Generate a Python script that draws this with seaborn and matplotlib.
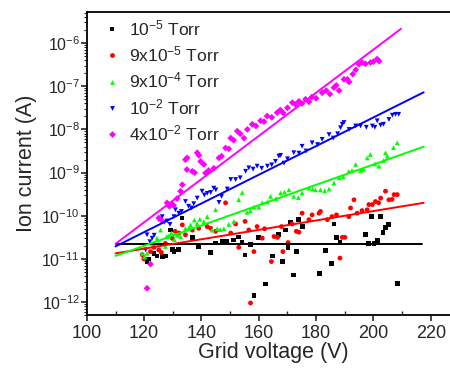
import matplotlib
matplotlib.use("Agg")
import matplotlib.pyplot as plt
import numpy as np
import pandas as pd
import seaborn as sns
from matplotlib.ticker import FixedLocator, MultipleLocator, LogLocator, NullFormatter

# ---- data (voltage in V, current as log10(A)) ----
series_names = ["10$^{-5}$ Torr", "9x10$^{-5}$ Torr", "9x10$^{-4}$ Torr",
                "10$^{-2}$ Torr", "4x10$^{-2}$ Torr"]
series_colors = ["#000000", "#ff0000", "#00ff00", "#0000ff", "#ff00ff"]
series_markers = ["s", "o", "^", "v", "D"]

x_ticks = [100, 120, 140, 160, 180, 200, 220]
y_ticks = [1e-12, 1e-11, 1e-10, 1e-9, 1e-8, 1e-7, 1e-6]

black_v = [121.0, 121.6, 123.4, 124.5, 126.3, 127.5, 129.2, 129.8, 130.4, 132.1,
           133.2, 136.8, 139.0, 143.2, 144.9, 147.2, 148.9, 151.3, 153.0, 154.1,
           155.2, 157.1, 158.3, 159.8, 162.3, 164.9, 167.0, 168.2, 169.3, 170.2,
           171.0, 172.2, 173.1, 173.9, 175.1, 181.3, 183.3, 185.3, 186.2, 187.1,
           188.3, 197.3, 198.2, 199.3, 200.2, 201.3, 202.5, 203.3, 204.3, 205.2,
           208.3]
black_lg = [-11.05, -11.0, -10.88, -10.93, -10.95, -10.93, -10.33, -10.79, -10.83, -10.79,
            -10.05, -10.5, -10.71, -10.85, -10.63, -10.6, -10.6, -10.56, -10.49, -10.62,
            -10.91, -10.67, -11.84, -10.5, -11.58, -10.93, -10.44, -11.05, -10.33, -10.73,
            -10.16, -11.37, -10.83, -10.08, -10.25, -11.33, -10.81, -11.1, -10.19, -10.5,
            -10.62, -10.44, -10.64, -10.02, -10.64, -10.57, -10.02, -10.39, -10.27, -10.21,
            -11.57]

red_v = [119.3, 119.9, 122.2, 123.4, 125.1, 126.0, 127.4, 129.8, 130.8, 132.1,
         133.3, 134.4, 136.8, 139.0, 142.0, 143.2, 144.9, 148.4, 150.2, 151.9,
         153.0, 155.2, 156.5, 157.1, 158.3, 159.4, 161.2, 162.0, 164.4, 165.3,
         166.5, 167.9, 168.4, 170.2, 171.6, 173.1, 174.0, 175.1, 177.5, 178.6,
         181.0, 181.5, 183.9, 185.5, 187.1, 188.3, 189.1, 190.0, 191.4, 192.0,
         193.2, 194.3, 196.0, 197.8, 198.4, 199.6, 200.7, 201.8, 202.5, 204.2,
         205.4, 206.5, 207.2, 208.3]
red_lg = [-10.9, -11.0, -10.83, -10.73, -10.79, -10.85, -10.64, -10.52, -10.36, -10.4,
          -10.21, -10.44, -10.33, -10.29, -10.25, -10.29, -10.36, -9.70, -10.4, -10.19,
          -10.73, -10.13, -10.33, -12.02, -10.83, -10.25, -10.52, -10.3, -11.06, -10.48,
          -10.5, -10.25, -10.83, -10.62, -10.19, -10.36, -10.38, -9.94, -10.09, -9.98,
          -9.94, -9.9, -10.09, -10.02, -9.98, -10.98, -10.5, -10.5, -10.02, -9.82,
          -9.63, -9.94, -9.88, -9.86, -9.74, -9.74, -9.67, -9.7, -9.59, -9.43,
          -9.63, -9.62, -9.51, -9.51]

green_v = [119.3, 120.2, 121.0, 122.8, 124.5, 125.1, 125.7, 127.4, 127.9, 128.6,
           129.5, 130.5, 131.5, 132.7, 134.4, 135.6, 136.2, 137.5, 138.5, 139.4,
           140.8, 142.0, 143.7, 144.9, 145.5, 146.5, 147.8, 149.5, 151.3, 153.0,
           154.2, 155.9, 157.0, 158.3, 160.0, 161.2, 163.0, 164.1, 166.0, 167.6,
           169.0, 170.5, 172.2, 173.8, 175.1, 177.5, 178.8, 179.8, 181.5, 183.0,
           184.5, 186.2, 188.0, 189.5, 191.4, 192.5, 193.8, 195.5, 196.5, 197.8,
           198.9, 200.5, 201.9, 203.5, 204.2, 204.8, 207.0, 208.3]
green_lg = [-10.87, -10.95, -10.87, -10.64, -10.52, -10.64, -10.33, -10.71, -10.48, -10.47,
            -10.4, -10.55, -10.45, -10.48, -10.29, -10.29, -10.21, -10.1, -10.18, -10.08,
            -10.13, -10.02, -10.33, -9.86, -10.3, -10.32, -10.3, -10.2, -10.13, -9.63,
            -9.46, -9.92, -9.88, -9.8, -9.8, -9.70, -9.68, -9.55, -9.6, -9.47,
            -9.45, -9.4, -9.55, -9.58, -9.47, -9.36, -9.38, -9.4, -9.4, -9.42,
            -9.38, -9.24, -9.12, -9.1, -8.97, -8.95, -8.81, -8.95, -8.92, -8.66,
            -8.58, -8.8, -8.85, -8.72, -8.54, -8.62, -8.42, -8.31]

blue_v = [120.5, 121.0, 122.0, 122.8, 123.5, 125.1, 126.3, 127.0, 128.0, 129.0,
          130.4, 130.9, 132.1, 133.0, 134.4, 135.5, 136.5, 137.3, 138.5, 140.2,
          141.0, 142.0, 143.2, 144.3, 145.0, 146.1, 147.0, 149.0, 150.2, 151.9,
          153.5, 155.4, 156.5, 158.0, 159.4, 161.0, 163.0, 164.5, 165.8, 167.0,
          167.6, 168.8, 170.0, 172.2, 174.0, 175.1, 176.5, 178.6, 180.5, 182.1,
          184.5, 186.0, 187.5, 188.5, 189.1, 189.7, 191.5, 193.8, 195.5, 197.5,
          199.6, 200.5, 201.3, 202.5, 203.5, 205.4, 206.6, 207.7, 208.8]
blue_lg = [-10.79, -10.44, -10.6, -10.52, -10.45, -10.09, -10.02, -10.15, -10.12, -10.2,
           -10.02, -9.86, -9.94, -9.9, -9.67, -9.78, -9.82, -9.72, -9.59, -9.43,
           -9.52, -9.48, -9.46, -9.36, -9.4, -9.69, -9.55, -9.38, -9.16, -9.16,
           -9.12, -8.97, -8.89, -8.92, -8.85, -8.9, -8.85, -8.82, -8.74, -8.62,
           -8.6, -8.78, -8.68, -8.54, -8.55, -8.39, -8.5, -8.31, -8.35, -8.23,
           -8.12, -8.2, -8.1, -7.96, -7.88, -7.84, -8.0, -7.92, -7.92, -7.95,
           -7.92, -7.95, -7.8, -7.9, -7.88, -7.77, -7.67, -7.65, -7.65]

magenta_v = [121.0, 122.2, 125.1, 126.0, 128.0, 128.8, 129.8, 130.3, 131.5, 132.7,
             133.3, 134.4, 134.9, 135.0, 136.8, 137.6, 138.5, 139.1, 139.7, 140.8,
             141.4, 142.5, 144.3, 146.1, 147.0, 148.4, 149.5, 150.2, 151.2, 152.5,
             153.5, 154.8, 156.0, 157.7, 159.0, 160.6, 161.8, 162.9, 164.5, 166.4,
             167.5, 168.5, 170.0, 171.7, 172.8, 174.0, 175.0, 176.3, 177.5, 178.5,
             180.0, 182.1, 183.5, 184.8, 186.2, 187.0, 188.0, 189.7, 190.9, 191.5,
             192.8, 193.8, 194.9, 196.0, 197.2, 199.0, 200.0, 201.3, 202.0]
magenta_lg = [-11.68, -11.12, -10.05, -10.1, -9.7, -9.78, -9.74, -9.76, -9.6, -9.43,
              -9.28, -8.70, -8.93, -8.66, -8.97, -9.0, -8.54, -8.6, -8.74, -8.81,
              -9.01, -8.95, -8.9, -8.66, -8.62, -8.43, -8.45, -8.2, -8.25, -8.04,
              -8.1, -8.2, -8.0, -7.88, -7.92, -7.8, -7.82, -7.69, -7.72, -7.61,
              -7.55, -7.62, -7.5, -7.38, -7.42, -7.35, -7.4, -7.3, -7.36, -7.25,
              -7.28, -7.15, -7.1, -7.18, -7.03, -6.98, -7.1, -6.84, -6.84, -6.9,
              -6.72, -6.62, -6.49, -6.45, -6.48, -6.45, -6.43, -6.37, -6.42]

# fitted lines: end points (V, log10 I)
fit_v0 = [110, 110, 110, 110, 110]
fit_v1 = [217, 217.5, 217.5, 217.5, 209.6]
fit_lg0 = [-10.65, -10.87, -10.93, -10.71, -10.65]
fit_lg1 = [-10.65, -9.70, -8.40, -7.14, -5.67]

all_v = [black_v, red_v, green_v, blue_v, magenta_v]
all_lg = [black_lg, red_lg, green_lg, blue_lg, magenta_lg]

# ---- build tables ----
rows = []
for name, vs, lgs in zip(series_names, all_v, all_lg):
    for v, lg in zip(vs, lgs):
        rows.append({"V": v, "I": 10.0 ** lg, "series": name})
df = pd.DataFrame(rows)

fit_rows = []
for name, a, b, c, d in zip(series_names, fit_v0, fit_v1, fit_lg0, fit_lg1):
    fit_rows.append({"V": a, "I": 10.0 ** c, "series": name})
    fit_rows.append({"V": b, "I": 10.0 ** d, "series": name})
fit_df = pd.DataFrame(fit_rows)

sns.set_style("ticks")
plt.rcParams["font.family"] = ["Liberation Sans", "DejaVu Sans"]
plt.rcParams["mathtext.fontset"] = "custom"
plt.rcParams["mathtext.rm"] = "Liberation Sans"
plt.rcParams["mathtext.it"] = "Liberation Sans:italic"
plt.rcParams["mathtext.default"] = "regular"

palette = dict(zip(series_names, series_colors))
markers = dict(zip(series_names, series_markers))

fig = plt.figure(figsize=(4.5, 3.69), dpi=100)
ax = fig.add_axes([0.193, 0.146, 0.828, 0.821])

sns.lineplot(data=fit_df, x="V", y="I", hue="series", palette=palette,
             estimator=None, sort=False, linewidth=1.4, legend=False, ax=ax)
sns.scatterplot(data=df, x="V", y="I", hue="series", style="series",
                palette=palette, markers=markers, s=12, linewidth=0, ax=ax)

ax.set_yscale("log")
ax.set_xlim(100, 230)
ax.set_ylim(5e-13, 5.2e-6)

leg = ax.get_legend()
handles = leg.legend_handles
labels = [t.get_text() for t in leg.texts]
ax.legend(handles, labels, loc="upper left", bbox_to_anchor=(0.02, 1.015),
          frameon=False, fontsize=12.5, handlelength=0.8, handletextpad=0.6,
          labelspacing=0.37, markerscale=1.0, borderaxespad=0.2)

ax.xaxis.set_major_locator(FixedLocator(x_ticks))
ax.xaxis.set_minor_locator(MultipleLocator(10))
ax.yaxis.set_major_locator(FixedLocator(y_ticks))
ax.yaxis.set_minor_locator(LogLocator(base=10, subs=np.arange(2, 10), numticks=20))
ax.yaxis.set_minor_formatter(NullFormatter())

ax.tick_params(axis="x", which="major", direction="out", length=4, width=1.2,
               labelsize=13, pad=3)
ax.tick_params(axis="x", which="minor", direction="in", length=3, width=1.0)
ax.tick_params(axis="y", which="major", direction="out", length=4, width=1.2,
               labelsize=11.5, pad=1)
ax.tick_params(axis="y", which="minor", direction="out", length=2, width=0.8)

for side in ["left", "bottom", "top"]:
    ax.spines[side].set_linewidth(1.3)
    ax.spines[side].set_color("black")
ax.spines["right"].set_visible(False)

ax.set_xlabel("Grid voltage (V)", fontsize=15.5, labelpad=0)
ax.set_ylabel("Ion current (A)", fontsize=15.5, labelpad=3)

fig.savefig("out.png", dpi=100)
